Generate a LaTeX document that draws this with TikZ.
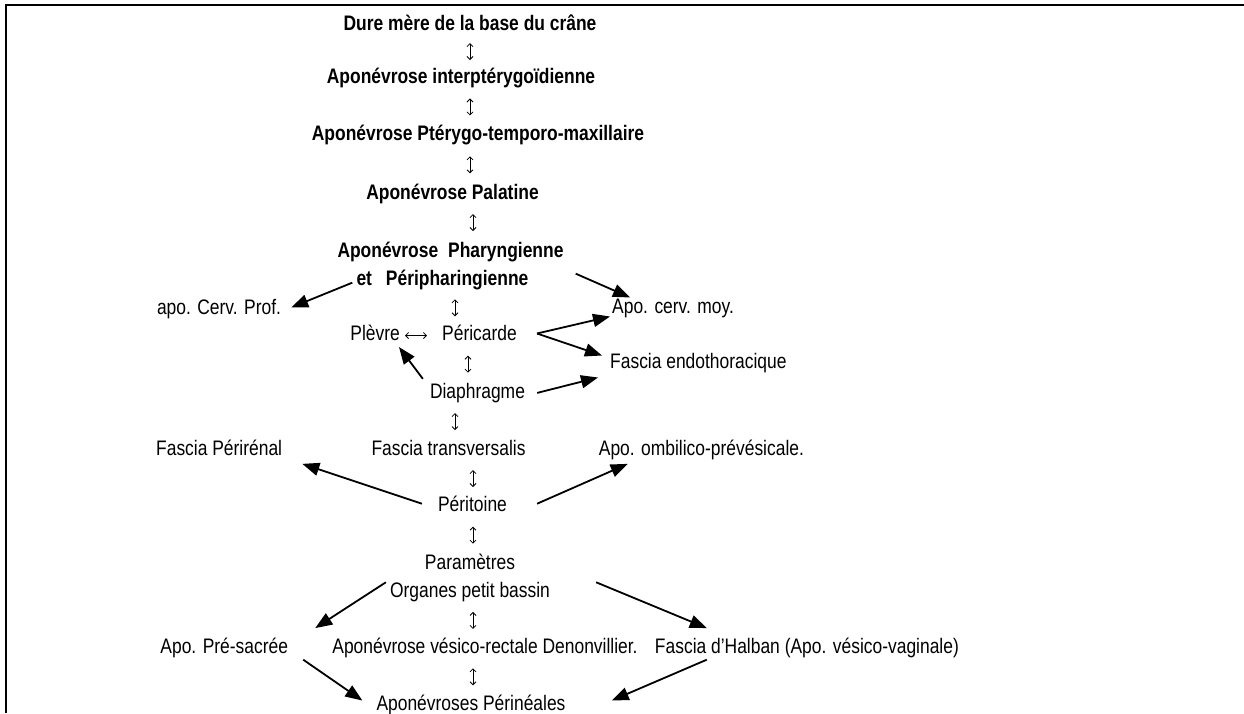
\documentclass[tikz,border=0pt]{standalone}
\usepackage{fontspec}
\setmainfont{Liberation Sans}[FakeStretch=0.83]
\usetikzlibrary{positioning,arrows.meta}

\tikzset{
  txt/.style={inner sep=0pt, font=\fontsize{21pt}{28pt}\selectfont, text height=14.5pt, text depth=4.2pt},
  bold/.style={txt, font=\fontsize{21pt}{28pt}\selectfont\bfseries},
  twoline/.style={inner sep=0pt, font=\fontsize{21pt}{28pt}\selectfont},
  updown/.style={{Straight Barb[length=3pt,width=6pt]}-{Straight Barb[length=3pt,width=6pt]}, line width=0.8pt, shorten <=#1, shorten >=#1},
  updown/.default=10pt,
  link/.style={-{Triangle[length=17pt,width=13pt]}, line width=1.8pt},
}

\begin{document}
\begin{tikzpicture}[x=1pt, y=-1pt]
    \useasboundingbox (0,0) rectangle (1244,713);
    \draw[line width=2pt] (6,713) -- (6,5) -- (1244,5);

    % main column
    \node[bold, anchor=base] (dure) at (470,30) {Dure mère de la base du crâne};
    \node[bold, below=34.3pt of dure, xshift=-9pt] (interpt) {Aponévrose interptérygoïdienne};
    \node[bold, below=38.3pt of interpt, xshift=17pt] (ptery) {Aponévrose Ptérygo-temporo-maxillaire};
    \node[bold, below=39.3pt of ptery, xshift=-25.5pt] (pala) {Aponévrose Palatine};
    \node[twoline, font=\fontsize{21pt}{28pt}\selectfont\bfseries, align=left, below=37.8pt of pala, xshift=-2pt] (phar)
    {Aponévrose\hspace{10pt}Pharyngienne\\\hspace*{19pt}et\hspace{14pt}Péripharingienne};
    \node[txt, below=36.3pt of phar, xshift=29pt] (peric) {Péricarde};
    \node[txt, left=42pt of peric] (plevre) {Plèvre};
    \node[txt, below=38.3pt of peric, xshift=-2pt] (diaph) {Diaphragme};
    \node[txt, below=38.3pt of diaph, xshift=-29pt] (transv) {Fascia transversalis};
    \node[txt, below=37.3pt of transv, xshift=24pt] (perit) {Péritoine};
    \node[twoline, align=center, below=37.8pt of perit, xshift=-2.5pt] (param) {Paramètres\\Organes petit bassin};
    \node[txt, below=36.3pt of param, xshift=15pt] (denon) {Aponévrose vésico-rectale Denonvillier.};
    \node[txt, below=38.3pt of denon, xshift=-14pt] (perin) {Aponévroses Périnéales};

    % side nodes
    \node[txt, left=69pt of plevre, yshift=26pt] (cervprof) {apo. Cerv. Prof.};
    \node[txt, right=95pt of peric, yshift=27pt] (cervmoy) {Apo. cerv. moy.};
    \node[txt, right=93pt of peric, yshift=-28pt] (endo) {Fascia endothoracique};
    \node[txt, left=89pt of transv] (perirenal) {Fascia Périrénal};
    \node[txt, right=73pt of transv] (ombil) {Apo. ombilico-prévésicale.};
    \node[txt, left=44pt of denon] (presacree) {Apo. Pré-sacrée};
    \node[txt, right=17pt of denon] (halban) {Fascia d’Halban (Apo. vésico-vaginale)};

    % double arrows
    \draw[updown=8.65pt] (dure.south) -- ([xshift=9pt]interpt.north);
    \draw[updown=10.65pt] ([xshift=9pt]interpt.south) -- ([xshift=-8pt]ptery.north);
    \draw[updown=11.15pt] ([xshift=-8pt]ptery.south) -- ([xshift=17.5pt]pala.north);
    \draw[updown=10.4pt] ([xshift=20.5pt]pala.south) -- ([xshift=22.5pt]phar.north);
    \draw[updown=9.65pt] ([xshift=4.5pt]phar.south) -- ([xshift=-24.5pt]peric.north);
    \draw[updown=10.65pt] ([xshift=-11.5pt]peric.south) -- ([xshift=-9.5pt]diaph.north);
    \draw[updown=10.65pt] ([xshift=-22.5pt]diaph.south) -- ([xshift=6.5pt]transv.north);
    \draw[updown=10.15pt] ([xshift=24.5pt]transv.south) -- ([xshift=.5pt]perit.north);
    \draw[updown=10.4pt] ([xshift=.5pt]perit.south) -- ([xshift=3pt]param.north);
    \draw[updown=9.65pt] ([xshift=3pt]param.south) -- ([xshift=-12pt]denon.north);
    \draw[updown=10.65pt] ([xshift=-12pt]denon.south) -- ([xshift=2pt]perin.north);
    \draw[updown=5pt, shorten >=15pt] (plevre) -- (peric);

    % branches
    \draw[link] ([xshift=15pt,yshift=7pt]phar.south west) -- ([xshift=10pt,yshift=2pt]cervprof.east);
    \draw[link] ([xshift=12pt,yshift=16pt]phar.south east) -- ([xshift=18pt,yshift=1.5pt]cervmoy.north west);
    \draw[link] ([xshift=20pt,yshift=2pt]peric.east) -- ([xshift=-2pt,yshift=-8pt]cervmoy.west);
    \draw[link] ([xshift=20pt,yshift=2pt]peric.east) -- ([xshift=-8pt,yshift=8pt]endo.west);
    \draw[link] ([xshift=12pt]diaph.east) -- ([xshift=-12pt,yshift=-14pt]endo.west);
    \draw[link] ([xshift=-7pt,yshift=4.5pt]diaph.north west) -- ([xshift=-1pt,yshift=-2pt]plevre.south east);
    \draw[link] ([xshift=-16pt,yshift=3pt]perit.west) -- ([xshift=20pt,yshift=-4pt]perirenal.south east);
    \draw[link] ([xshift=30pt,yshift=3pt]perit.east) -- ([xshift=29pt,yshift=-4pt]ombil.south west);
    \draw[link] ([xshift=-4pt,yshift=20pt]param.south west) -- ([xshift=27pt,yshift=10.5pt]presacree.north east);
    \draw[link] ([xshift=46pt,yshift=20pt]param.south east) -- ([xshift=52pt,yshift=10.5pt]halban.north west);
    \draw[link] ([xshift=15pt,yshift=-2pt]presacree.south east) -- ([xshift=-14pt,yshift=5pt]perin.west);
    \draw[link] ([xshift=52pt,yshift=-2pt]halban.south west) -- ([xshift=46pt,yshift=5pt]perin.east);
\end{tikzpicture}
\end{document}
